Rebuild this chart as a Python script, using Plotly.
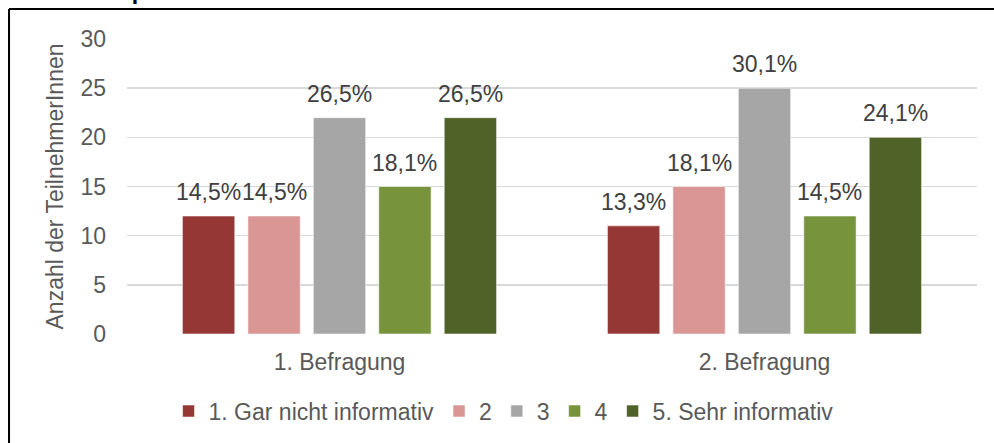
import plotly.graph_objects as go

categories = ["1. Befragung", "2. Befragung"]
series_names = ["1. Gar nicht informativ", "2", "3", "4", "5. Sehr informativ"]
values = [
    [12, 11],
    [12, 15],
    [22, 25],
    [15, 12],
    [22, 20],
]
pct_labels = [
    ["14,5%", "13,3%"],
    ["14,5%", "18,1%"],
    ["26,5%", "30,1%"],
    ["18,1%", "14,5%"],
    ["26,5%", "24,1%"],
]
colors = ["#953735", "#D99694", "#A6A6A6", "#77933C", "#4F6228"]
y_ticks = [0, 5, 10, 15, 20, 25, 30]

FONT = "Liberation Sans, Arial, sans-serif"
TXT = "#595959"
BARGAP = 0.23
BARGROUPGAP = 0.2

fig = go.Figure()
for name, vals, col in zip(series_names, values, colors):
    fig.add_trace(go.Bar(
        x=categories, y=vals, name=name,
        marker=dict(color=col, line=dict(color="rgba(255,255,255,0.7)", width=0.8)),
        hoverinfo="skip",
    ))

n = len(series_names)
slot = (1 - BARGAP) / n
annotations = []
for i, (vals, labs) in enumerate(zip(values, pct_labels)):
    for j, (v, lab) in enumerate(zip(vals, labs)):
        annotations.append(dict(
            x=j + (i - (n - 1) / 2) * slot, y=v, xref="x", yref="y",
            text=lab, showarrow=False, yanchor="bottom", xanchor="center",
            yshift=9, font=dict(family=FONT, size=23, color="#404040"),
        ))

# cut-off heading at the very top (only its lower edge is visible, as in the source)
annotations.append(dict(
    x=0.086, y=1.112, xref="paper", yref="paper", text="<b>der Resultatsphase</b>",
    showarrow=False, xanchor="right", yanchor="bottom",
    font=dict(family=FONT, size=23, color="#000000"),
))

fig.update_layout(
    width=994, height=443,
    margin=dict(l=127, r=17, t=39, b=108),
    paper_bgcolor="white", plot_bgcolor="white",
    barmode="group", bargap=BARGAP, bargroupgap=BARGROUPGAP,
    font=dict(family=FONT, size=23, color=TXT),
    showlegend=True,
    legend=dict(orientation="h", x=0.443, xanchor="center", y=-0.257, yanchor="middle",
                font=dict(family=FONT, size=23, color=TXT), traceorder="normal",
                itemclick=False, itemdoubleclick=False),
    annotations=annotations,
    shapes=[
        dict(type="line", xref="paper", yref="paper", x0=-0.1388, x1=1.2, y0=1.1014, y1=1.1014,
             line=dict(color="black", width=2)),
        dict(type="line", xref="paper", yref="paper", x0=-0.1388, x1=-0.1388, y0=-0.6, y1=1.1014,
             line=dict(color="black", width=2)),
    ],
)
fig.update_xaxes(
    showgrid=False, showline=False, zeroline=False, ticks="",
    tickfont=dict(family=FONT, size=23, color=TXT), ticklabelstandoff=12,
)
fig.update_yaxes(
    range=[0, 30], tickvals=y_ticks, showgrid=True, gridcolor="#D9D9D9", gridwidth=1.5,
    zeroline=False, showline=False, ticks="",
    tickfont=dict(family=FONT, size=23, color=TXT), ticklabelstandoff=20,
    title=dict(text="Anzahl der TeilnehmerInnen", font=dict(family=FONT, size=23, color=TXT), standoff=10),
)

fig.write_html(
    "out.html",
    config={"displayModeBar": False, "staticPlot": True},
    post_script="document.body.style.margin='0';document.body.style.overflow='hidden';",
)
